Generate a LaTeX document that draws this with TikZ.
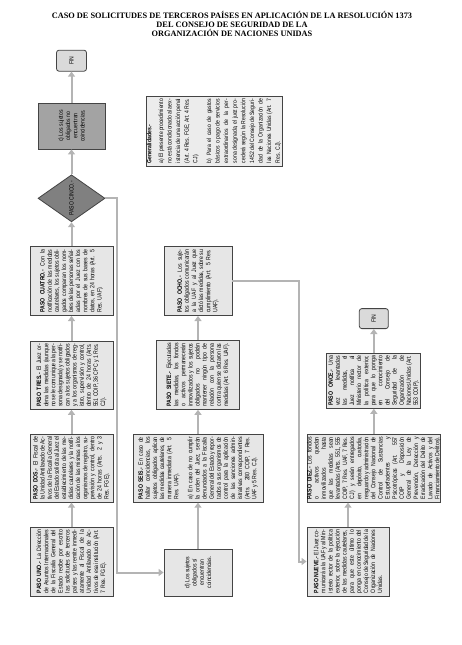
\documentclass[tikz,border=0pt]{standalone}
\usepackage{fontspec}
\usepackage{graphicx}
\usepackage{xcolor}
\usepackage{tikz}
\usetikzlibrary{positioning,arrows.meta,shapes.geometric}
\setmainfont{Liberation Serif}
\newfontfamily\narrowfont[FakeStretch=0.82]{Liberation Sans}
\definecolor{boxline}{HTML}{444444}
\definecolor{boxfill}{HTML}{E6E6E6}
\definecolor{genfill}{HTML}{ECECEC}
\definecolor{nofill}{HTML}{A3A3A3}
\definecolor{diafill}{HTML}{808080}
\definecolor{finfill}{HTML}{DADADA}
\definecolor{flowgray}{HTML}{B4B4B4}
\newcommand{\vtext}[2]{\rotatebox{90}{\parbox{#1}{\narrowfont\fontsize{6.3}{7.1}\selectfont\sloppy\hyphenpenalty=200 #2}}}
\newcommand{\vctext}[2]{\rotatebox{90}{\parbox{#1}{\narrowfont\fontsize{6.2}{7.2}\selectfont\centering #2}}}

\begin{document}
\begin{tikzpicture}[>={Triangle[length=5pt,width=7pt]},node distance=24pt,every node/.style={inner sep=0pt}]
\tikzstyle{paso}=[draw=boxline,line width=0.8pt,fill=boxfill]
\tikzstyle{fin}=[paso,rounded corners=2.5pt,fill=finfill]
\tikzstyle{flow}=[draw=flowgray,line width=2pt,->]
\useasboundingbox (0,0) rectangle (461pt,-645pt);
\node[font=\bfseries\fontsize{8.3}{9.2}\selectfont,align=center] (titulo) at (232pt,-24pt) {CASO DE SOLICITUDES DE TERCEROS PAÍSES EN APLICACIÓN DE LA RESOLUCIÓN 1373\\DEL CONSEJO DE SEGURIDAD DE LA\\ORGANIZACIÓN DE NACIONES UNIDAS};

\node[paso,minimum width=83pt,minimum height=69pt] (uno) at (71.5pt,-561.5pt) {\vtext{63pt}{\textbf{PASO UNO.-} La Dirección de Asuntos Internacionales de la Fiscalía General del Estado recibe por escrito las solicitudes de terceros países y las remite inmediatamente al Fiscal de la Unidad Antilavado de Activos de esa institución (Art. 7 Res. FGE).}};
\node[paso,minimum width=83pt,minimum height=68pt,above=of uno] (dos) {\vtext{63pt}{\textbf{PASO DOS.-} El Fiscal de la Unidad Antilavado de Activos de la Fiscalía General del Estado solicita al Juez el establecimiento de las medidas cautelares y la notificación de las mismas a los organismos de registro, supervisión y control, dentro de 24 horas (Arts. 2 y 3 Res. FGE).}};
\node[paso,minimum width=83pt,minimum height=68pt,above=of dos] (tres) {\vtext{63pt}{\textbf{PASO TRES.-} El Juez ordena las medidas (aunque no se le comunique a la persona designada) y se notifican a los sujetos obligados y a los organismos de registro, supervisión y control, dentro de 24 horas (Arts. 551 COIP, 36 CPC y 1 Res. CJ).}};
\node[paso,minimum width=83pt,minimum height=69pt,above=25pt of tres] (cuatro) {\vtext{63pt}{\textbf{PASO CUATRO.-} Con la notificación de las medidas cautelares, los sujetos obligados comparan los nombres de las personas señaladas por el Juez con los nombres de sus bases de datos, en 24 horas (Art. 5 Res. UAF).}};
\node[diamond,draw=boxline,line width=0.8pt,fill=diafill,minimum width=67pt,minimum height=47pt,above=of cuatro] (cinco) {\rotatebox{90}{\narrowfont\fontsize{6.2}{7}\selectfont PASO CINCO.-}};
\node[paso,fill=nofill,minimum width=67pt,minimum height=46pt,above=25pt of cinco] (noenc) {\vctext{36pt}{c) Los sujetos obligados no encuentran coincidencias.}};
\node[fin,minimum width=30pt,minimum height=21pt,above=31pt of noenc] (fin1) {\rotatebox{90}{\narrowfont\fontsize{6.2}{7}\selectfont FIN}};

\node[paso,minimum width=136pt,minimum height=70pt,fill=genfill] (gral) at (214pt,-131pt) {\rotatebox{90}{\parbox{64pt}{\narrowfont\fontsize{6.2}{8.6}\selectfont\sloppy \textbf{Generalidades.-}\par\vspace{3pt}a) El presente procedimiento no está condicionado a la existencia de una acción penal (Art. 4 Res. FGE; Art. 4 Res. CJ).\par\vspace{5pt}b) Para el caso de gastos básicos o pago de servicios extraordinarios de la persona designada, el juez procederá según la Resolución 1452 del Consejo de Seguridad de la Organización de las Naciones Unidas (Art. 7 Res. CJ).}}};

\node[paso,minimum width=68pt,minimum height=47pt] (dsi) at (198pt,-572.5pt) {\vctext{36pt}{d) Los sujetos obligados sí encuentran coincidencias.}};
\node[paso,minimum width=130pt,minimum height=68pt,above=46pt of dsi] (seis) {\vtext{62pt}{\textbf{PASO SEIS.-} En caso de hallar coincidencias, los sujetos obligados aplican las medidas cautelares, de manera inmediata (Art. 5 Res. UAF).\par\vspace{7pt}a) En caso de no cumplir la orden del Juez, serán denunciados a la Fiscalía General del Estado y reportados a sus organismos de control para la aplicación de las sanciones administrativas correspondientes (Arts. 280 COIP, 7 Res. UAF y 5 Res. CJ).}};
\node[paso,minimum width=83pt,minimum height=69pt,above=of seis] (siete) {\vtext{63pt}{\textbf{PASO SIETE.-} Ejecutadas las medidas, los fondos o activos permanecerán inmovilizados y los sujetos obligados no podrán mantener ningún tipo de relación con la persona contra quien se dictaron las medidas (Art. 6 Res. UAF).}};
\node[paso,minimum width=68pt,minimum height=69pt,above=of siete] (ocho) {\vtext{63pt}{\textbf{PASO OCHO.-} Los sujetos obligados comunicarán a la UAF y al Juez que dictó las medidas, sobre su cumplimiento (Art. 5 Res. UAF).}};

\node[paso,minimum width=82pt,minimum height=69pt] (nueve) at (348pt,-561.5pt) {\vtext{63pt}{\textbf{PASO NUEVE.-} El Juez comunicará a la UAF y al Ministerio rector de la política exterior, sobre la ejecución de las medidas cautelares, para que este último lo ponga en conocimiento del Consejo de Seguridad de la Organización de Naciones Unidas.}};
\node[paso,minimum width=131pt,minimum height=68pt,above=of nueve.north west,anchor=south west] (diez) {\vtext{62pt}{\textbf{PASO DIEZ.-} Los fondos o activos quedan inmovilizados hasta que las medidas sean levantadas (Arts. 551, 555 COIP, 7 Res. UAF, 7 Res. CJ) y serán entregados en depósito, custodia, resguardo y administración del Consejo Nacional de Control de Sustancias Estupefacientes y Psicotrópicas (Art. 557 COIP y Disposición General de la Ley de Prevención, Detección y Erradicación del Delito de Lavado de Activos y del Financiamiento de Delitos).}};
\node[paso,minimum width=94pt,minimum height=55pt,above=25pt of diez] (once) {\vtext{50pt}{\textbf{PASO ONCE.-} Una vez levantadas las medidas, el Juez notifica al Ministerio rector de la política exterior, para que lo ponga en conocimiento del Consejo de Seguridad de la Organización de Naciones Unidas (Art. 553 COIP).}};
\node[fin,minimum width=29pt,minimum height=20pt,above=of once] (fin2) {\rotatebox{90}{\narrowfont\fontsize{6.2}{7}\selectfont FIN}};

\draw[flow] (uno) -- (dos);
\draw[flow] (dos) -- (tres);
\draw[flow] (tres) -- (cuatro);
\draw[flow] (cuatro) -- (cinco);
\draw[flow] (cinco) -- (noenc);
\draw[flow] (noenc) -- (fin1);
\draw[flow] (cinco.east) -- ++(12pt,0) |- (dsi);
\draw[flow] (dsi) -- (seis);
\draw[flow] (seis) -- (siete);
\draw[flow] (siete) -- (ocho);
\draw[flow] (ocho.east) -- ++(67pt,0) |- (nueve);
\draw[flow] (nueve) -- (nueve |- diez.south);
\draw[flow] (diez) -- (once);
\draw[flow] (once) -- (fin2);
\end{tikzpicture}
\end{document}
